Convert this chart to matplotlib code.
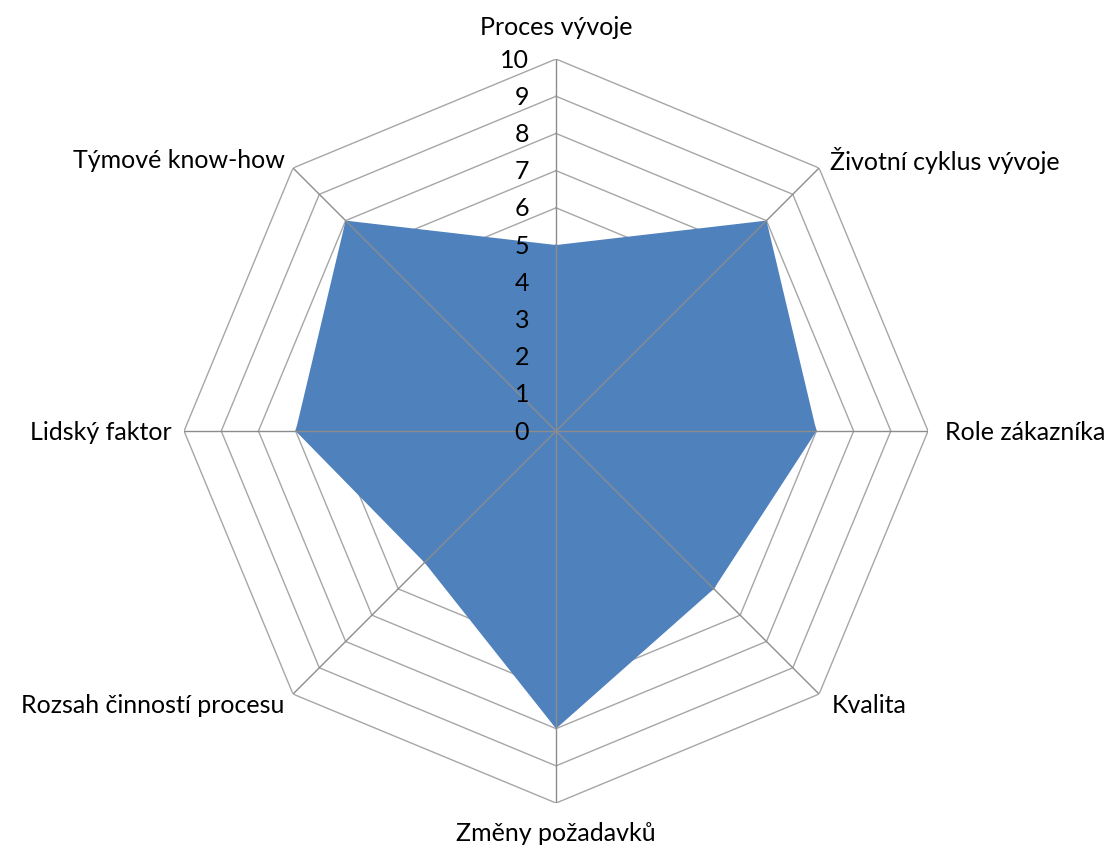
import numpy as np
import matplotlib
matplotlib.use("Agg")
import matplotlib.pyplot as plt

plt.rcParams['font.family'] = ['Lato', 'DejaVu Sans']

# categories clockwise from the top
categories = ["Proces vývoje", "Životní cyklus vývoje", "Role zákazníka", "Kvalita",
              "Změny požadavků", "Rozsah činností procesu", "Lidský faktor", "Týmové know-how"]
values = [5, 8, 7, 6, 8, 5, 7, 8]
levels = list(range(0, 11))

n = len(categories)
angles = np.linspace(0, 2 * np.pi, n, endpoint=False)

fig = plt.figure(figsize=(11.16, 8.53), dpi=100)
ax = fig.add_axes([0.1649, 0.0574, 0.6667, 0.8722], projection="polar")
ax.set_theta_offset(np.pi / 2)
ax.set_theta_direction(-1)
ax.set_ylim(0, 10)
ax.grid(False)
ax.spines["polar"].set_visible(False)
ax.set_xticks([])
ax.set_yticks([])
ax.patch.set_alpha(0)

ang_closed = np.append(angles, angles[0])

# octagon rings (under the fill)
for lv in levels[1:]:
    ax.plot(ang_closed, [lv] * (n + 1), color="#a6a6a6", lw=1.0, zorder=1)

# data
vals_closed = values + [values[0]]
ax.fill(ang_closed, vals_closed, color="#4f81bd", zorder=2, lw=0)

# spokes (over the fill)
for a in angles:
    ax.plot([a, a], [0, 10], color="#8c8c8c", lw=1.0, zorder=3)

fs = 18

# radial labels
for lv in levels:
    ax.annotate(str(lv), xy=(0, lv), xytext=(-27, 0), textcoords="offset pixels",
                ha="right", va="center", fontsize=fs, color="black", zorder=4,
                annotation_clip=False)

# category labels
offsets = [(0, 33, "center"), (11, 9, "left"), (17, 0, "left"), (13, -10, "left"),
           (0, -29, "center"), (-9, -10, "right"), (-12, 0, "right"), (-8, 9, "right")]
for a, lab, (dx, dy, ha) in zip(angles, categories, offsets):
    ax.annotate(lab, xy=(a, 10), xytext=(dx, dy), textcoords="offset pixels",
                ha=ha, va="center", fontsize=fs, color="black", annotation_clip=False)

fig.savefig("out.png", dpi=100)
